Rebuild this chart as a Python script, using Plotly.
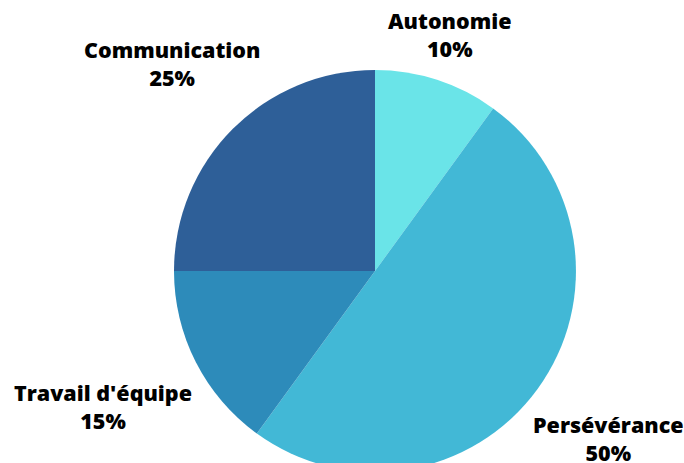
import plotly.graph_objects as go

labels = ["Autonomie", "Persévérance", "Travail d'équipe", "Communication"]
values = [10, 50, 15, 25]
colors = ["#6ae4e8", "#42b8d6", "#2d8bba", "#2e5f98"]
pct_labels = ["10%", "50%", "15%", "25%"]

W, H = 684, 480
cx, cy, r = 375, 271, 201

fig = go.Figure(go.Pie(
    labels=labels, values=values, sort=False, direction="clockwise", rotation=0,
    marker=dict(colors=colors, line=dict(width=0)),
    textinfo="none", hoverinfo="label+percent", showlegend=False,
    domain=dict(x=[(cx - r) / W, (cx + r) / W], y=[(H - (cy + r)) / H, (H - (cy - r)) / H]),
))

# label block centres (pixels)
pos = {
    "Autonomie": (450, 35),
    "Persévérance": (608, 438),
    "Travail d'équipe": (103, 406),
    "Communication": (172, 64),
}
font = dict(family="Open Sans", size=21.5, color="#000000", weight=800)
for name, pct in zip(labels, pct_labels):
    px, py = pos[name]
    fig.add_annotation(x=px / W, y=(H - py) / H, xref="paper", yref="paper",
                       text=f"{name}<br>{pct}", showarrow=False, font=font,
                       align="center", xanchor="center", yanchor="middle")

fig.update_layout(width=W, height=H, margin=dict(l=0, r=0, t=0, b=0),
                  paper_bgcolor="white", plot_bgcolor="white")
fig.write_html("out.html", config={"displayModeBar": False},
               post_script="document.body.style.margin='0';document.body.style.overflow='hidden';"
                           "document.documentElement.style.overflow='hidden';")
